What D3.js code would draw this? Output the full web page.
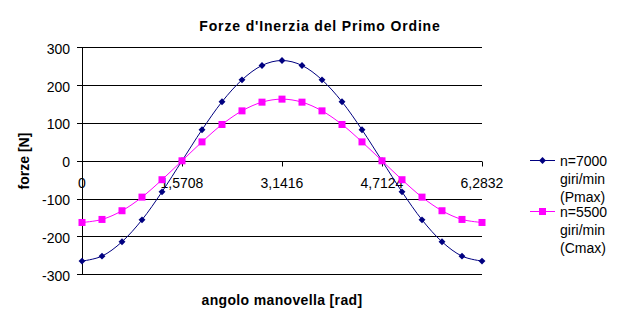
<!DOCTYPE html>
<html><head><meta charset="utf-8">
<script src="https://cdn.jsdelivr.net/npm/d3@7"></script>
<style>body{margin:0;background:#fff}svg{display:block}text{font-family:"Liberation Sans",Arial,sans-serif}</style>
</head><body><svg id="c" width="642" height="327"></svg>
<script>
const angles = d3.range(21); // category indices 0..20 (step pi/10)
const tickLabels = ["0","1,5708","3,1416","4,7124","6,2832"];
const tickIdx = [0,5,10,15,20];
const yTicks = [-300,-200,-100,0,100,200,300];
const seriesNames = [["n=7000","giri/min","(Pmax)"],["n=5500","giri/min","(Cmax)"]];
const s7000 = [-265,-252,-214,-156,-82,0,82,156,214,252,265,252,214,156,82,0,-82,-156,-214,-252,-265];
const s5500 = [-163,-155,-132,-96,-50,0,50,96,132,155,163,155,132,96,50,0,-50,-96,-132,-155,-163];
const colors = ["#000080","#FF00FF"];

const svg = d3.select("#c");
const x = d3.scalePoint().domain(angles).range([82,482]);
const y = d3.scaleLinear().domain([-300,300]).range([274.3,47.3]);

// gridlines
svg.append("g").selectAll("line").data(yTicks).join("line")
  .attr("x1",77).attr("x2",482).attr("y1",d=>Math.round(y(d))+0.5).attr("y2",d=>Math.round(y(d))+0.5)
  .attr("stroke","#000").attr("stroke-width",1);
// y axis line
svg.append("line").attr("x1",82.5).attr("x2",82.5).attr("y1",Math.round(y(300))).attr("y2",Math.round(y(-300))+1)
  .attr("stroke","#000");
// y labels
svg.append("g").selectAll("text").data(yTicks).join("text")
  .attr("x",70).attr("y",d=>y(d)+6.5).attr("text-anchor","end")
  .attr("font-size",14).text(d=>d);
// x ticks on zero line
const y0 = Math.round(y(0))+0.5;
svg.append("g").selectAll("line").data(tickIdx).join("line")
  .attr("x1",d=>Math.round(x(d))+0.5).attr("x2",d=>Math.round(x(d))+0.5)
  .attr("y1",y0).attr("y2",y0+5).attr("stroke","#000");
svg.append("g").selectAll("text").data(tickIdx).join("text")
  .attr("x",d=>x(d)).attr("y",188).attr("text-anchor","middle")
  .attr("font-size",14).text((d,i)=>tickLabels[i]);

// series
const line = d3.line().x((d,i)=>x(angles[i])).y(d=>y(d)).curve(d3.curveCatmullRom.alpha(0));
[s7000,s5500].forEach((s,k)=>{
  svg.append("path").attr("d",line(s)).attr("fill","none").attr("stroke",colors[k]).attr("stroke-width",1);
});
const diamond = d3.symbol().type(d3.symbolDiamond2).size(30);
svg.append("g").selectAll("path").data(s7000).join("path")
  .attr("transform",(d,i)=>`translate(${x(angles[i])},${y(d)})`)
  .attr("d",d=>diamond()).attr("fill",colors[0]);
svg.append("g").selectAll("rect").data(s5500).join("rect")
  .attr("x",(d,i)=>x(angles[i])-3.5).attr("y",d=>y(d)-3.5).attr("width",7).attr("height",7)
  .attr("fill",colors[1]);

// title & axis titles
svg.append("text").attr("x",320).attr("y",31).attr("text-anchor","middle")
  .attr("font-size",14).attr("font-weight","bold").attr("letter-spacing",0.85).text("Forze d'Inerzia del Primo Ordine");
svg.append("text").attr("x",282).attr("y",305).attr("text-anchor","middle")
  .attr("font-size",14).attr("font-weight","bold").attr("letter-spacing",0.35).text("angolo manovella [rad]");
svg.append("text").attr("transform","translate(29,161) rotate(-90)").attr("text-anchor","middle")
  .attr("font-size",14).attr("font-weight","bold").text("forze [N]");

// legend
const legY = [160,211];
seriesNames.forEach((lines,k)=>{
  const g = svg.append("g");
  g.append("line").attr("x1",530).attr("x2",555).attr("y1",legY[k]+0.5).attr("y2",legY[k]+0.5).attr("stroke",colors[k]);
  if(k===0) g.append("path").attr("transform",`translate(542.5,${legY[k]+0.5})`).attr("d",diamond()).attr("fill",colors[k]);
  else g.append("rect").attr("x",539).attr("y",legY[k]-3).attr("width",7).attr("height",7).attr("fill",colors[k]);
  g.selectAll("text").data(lines).join("text").attr("x",560).attr("y",(d,i)=>legY[k]+i*18+5.5)
    .attr("font-size",14).text(d=>d);
});
</script></body></html>
